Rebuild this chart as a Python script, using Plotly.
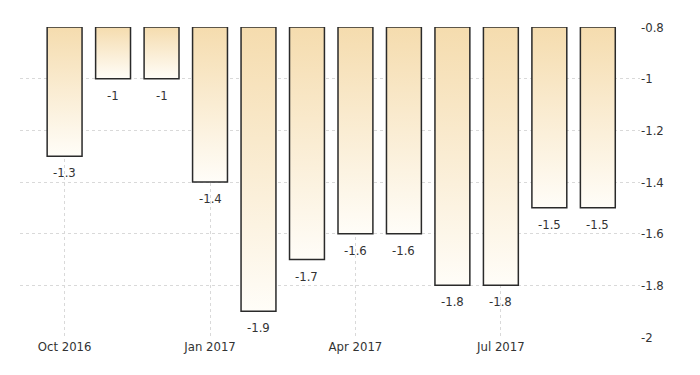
import plotly.graph_objects as go

months = ["Oct 2016", "Nov 2016", "Dec 2016", "Jan 2017", "Feb 2017", "Mar 2017",
          "Apr 2017", "May 2017", "Jun 2017", "Jul 2017", "Aug 2017", "Sep 2017"]
values = [-1.3, -1.0, -1.0, -1.4, -1.9, -1.7, -1.6, -1.6, -1.8, -1.8, -1.5, -1.5]
tick_labels = ["Oct 2016", "Jan 2017", "Apr 2017", "Jul 2017"]
y_ticks = [-0.8, -1, -1.2, -1.4, -1.6, -1.8, -2]
y_tick_text = ["-0.8", "-1", "-1.2", "-1.4", "-1.6", "-1.8", "-2"]
baseline = -0.8

FONT = "Liberation Sans Narrow, DejaVu Sans Condensed, Arial Narrow, sans-serif"
half = 0.36

fig = go.Figure()
for i, v in enumerate(values):
    xs = [i - half, i + half, i + half, i - half, i - half]
    ys = [baseline, baseline, v, v, baseline]
    fig.add_trace(go.Scatter(
        x=xs, y=ys, mode="lines", fill="toself",
        line=dict(color="#2a2a2a", width=1.5),
        fillgradient=dict(type="vertical",
                          colorscale=[[0, "#fffdf8"], [1, "#f5dcae"]]),
        hoverinfo="skip", showlegend=False,
    ))

for i, v in enumerate(values):
    fig.add_annotation(
        x=i, y=v, xref="x", yref="y", text="%g" % v, showarrow=False,
        yanchor="top", yshift=-7,
        font=dict(family=FONT, size=13, color="#333333"),
    )

fig.update_layout(
    width=700, height=375,
    margin=dict(l=12, r=68, t=15, b=46),
    paper_bgcolor="white", plot_bgcolor="white",
    font=dict(family=FONT, size=13, color="#333333"),
    xaxis=dict(
        range=[-0.92, 11.87],
        tickmode="array",
        tickvals=[months.index(t) for t in tick_labels],
        ticktext=tick_labels,
        showgrid=True, gridcolor="#d9d9d9", griddash="dot", gridwidth=1,
        zeroline=False, showline=False, ticks="",
        tickfont=dict(family=FONT, size=13, color="#333333"),
    ),
    yaxis=dict(
        range=[-2, -0.8], side="right",
        tickmode="array", tickvals=y_ticks, ticktext=y_tick_text,
        showgrid=True, gridcolor="#d9d9d9", griddash="dot", gridwidth=1,
        zeroline=False, showline=False, ticks="",
        tickfont=dict(family=FONT, size=13, color="#333333"),
    ),
)

fig.write_html("out.html")
